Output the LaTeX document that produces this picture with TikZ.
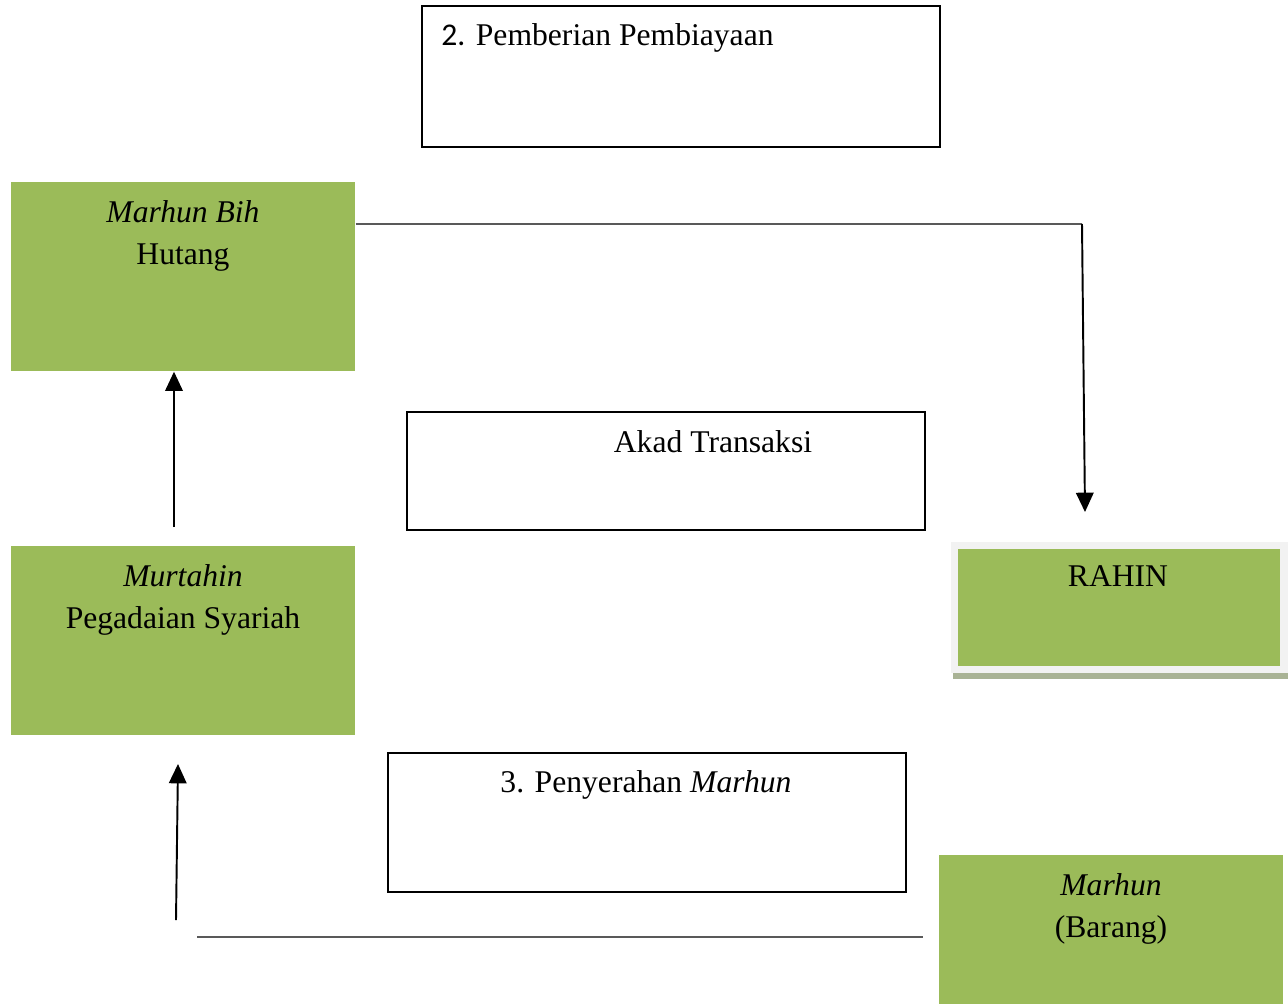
\documentclass[tikz,border=0pt]{standalone}
\usepackage{fontspec}
\setmainfont{Liberation Serif}
\newfontfamily\numfont{Carlito}
\usetikzlibrary{arrows.meta}
\definecolor{olv}{HTML}{9BBB59}
\definecolor{frm}{HTML}{F2F2F2}
\definecolor{shd}{HTML}{A9B395}
\tikzset{
    grn/.style={fill=olv,inner sep=0pt,anchor=north west},
    wht/.style={draw,line width=1pt,inner sep=0pt,anchor=north west},
    txt/.style={inner sep=0pt,anchor=base,align=center,font=\fontsize{18}{23.8}\selectfont},
    arr/.style={line width=1.1pt,-{Triangle[width=10pt,length=11pt]}},
    thn/.style={black!65,line width=0.7pt}
}

\begin{document}
\begin{tikzpicture}[x=0.02cm,y=-0.02cm]
    \useasboundingbox (0,0) rectangle (1288,1004);
    % boxes
    \node [wht,minimum width=10.36cm,minimum height=2.82cm] (pemb) at (421,5) {};
    \node [grn,minimum width=6.88cm,minimum height=3.78cm] (bih) at (11,182) {};
    \node [wht,minimum width=10.36cm,minimum height=2.36cm] (akad) at (406,411) {};
    \node [grn,minimum width=6.88cm,minimum height=3.78cm] (murt) at (11,546) {};
    \fill [shd] (953,673) rectangle (1288,679);
    \node [fill=frm,inner sep=0pt,anchor=north west,minimum width=6.74cm,minimum height=2.62cm] (rahinf) at (951,542) {};
    \node [grn,minimum width=6.44cm,minimum height=2.34cm] (rahin) at (958,549) {};
    \node [wht,minimum width=10.36cm,minimum height=2.78cm] (serah) at (387,752) {};
    \node [grn,minimum width=6.88cm,minimum height=2.98cm] (barang) at (939,855) {};
    % texts (base of the last line)
    \node [txt,anchor=base west] (pemb-t) at (441,45) {{\numfont 2.} Pemberian Pembiayaan};
    \node [txt] (bih-t) at (183,264) {\textit{Marhun Bih}\\Hutang};
    \node [txt] (akad-t) at (713,452) {Akad Transaksi};
    \node [txt] (murt-t) at (183,628) {\textit{Murtahin}\\Pegadaian Syariah};
    \node [txt] (rahin-t) at (1118,586) {RAHIN};
    \node [txt] (serah-t) at (646,792) {3. Penyerahan \textit{Marhun}};
    \node [txt] (barang-t) at (1111,937) {\textit{Marhun}\\(Barang)};
    % connectors
    \coordinate (c1) at (1082,224);
    \coordinate (c2) at (1085,512);
    \draw [thn] (bih.east |- c1) -- (c1);
    \draw [arr] (c1) -- (c2);
    \coordinate (a1) at (174,527);
    \draw [arr] (a1) -- (a1 |- bih.south);
    \coordinate (a2) at (176,920);
    \coordinate (a3) at (178,764);
    \draw [arr] (a2) -- (a3);
    \coordinate (b1) at (197,937);
    \coordinate (b2) at (923,937);
    \draw [thn,line width=1pt] (b1) -- (b2);
\end{tikzpicture}
\end{document}
